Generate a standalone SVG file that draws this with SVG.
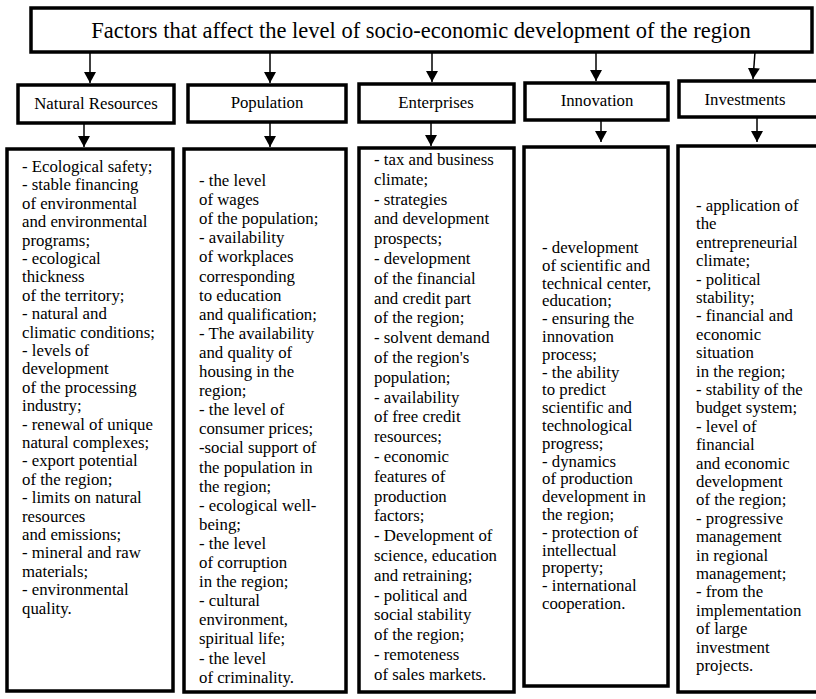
<svg xmlns="http://www.w3.org/2000/svg" width="816" height="699" viewBox="0 0 816 699" font-family="'Liberation Serif', 'Times New Roman', serif">
<style>
.box{fill:#fff;stroke:#000;stroke-width:3.5}
.t{font-family:'Liberation Serif','Times New Roman',serif;font-size:16.8px;fill:#000}
.title{font-family:'Liberation Serif','Times New Roman',serif;font-size:22.5px;fill:#000}
.hd{text-anchor:middle}
.arr{stroke:#000;stroke-width:1.5;fill:none;marker-end:url(#ah)}
</style>
<defs>
<marker id="ah" markerUnits="userSpaceOnUse" markerWidth="12" markerHeight="13" refX="11" refY="6" orient="auto">
<path d="M0,0 L11,6 L0,12 Z" fill="#000"/>
</marker>
</defs>
<rect width="816" height="699" fill="#fff"/>
<g id="title">
<rect class="box" x="31" y="8" width="781" height="44"/>
<text class="title" x="421" y="38" text-anchor="middle">Factors that affect the level of socio-economic development of the region</text>
</g>
<g id="connectors">
<line class="arr" x1="90" y1="52" x2="90" y2="83"/>
<line class="arr" x1="270" y1="52" x2="270" y2="83"/>
<line class="arr" x1="432" y1="52" x2="432" y2="82"/>
<line class="arr" x1="596" y1="52" x2="596" y2="81"/>
<line class="arr" x1="755" y1="52" x2="753" y2="79"/>
<line class="arr" x1="84" y1="123" x2="84" y2="147"/>
<line class="arr" x1="270" y1="122" x2="270" y2="147"/>
<line class="arr" x1="431" y1="122" x2="431" y2="146"/>
<line class="arr" x1="601" y1="120" x2="601" y2="142"/>
<line class="arr" x1="757" y1="117" x2="757" y2="142"/>
</g>
<g id="h-natural">
<rect class="box" x="18" y="85" width="156" height="38"/>
<text class="t hd" x="96" y="109">Natural Resources</text>
</g>
<g id="h-population">
<rect class="box" x="188" y="85" width="158" height="37"/>
<text class="t hd" x="267" y="108">Population</text>
</g>
<g id="h-enterprises">
<rect class="box" x="359" y="84" width="155" height="38"/>
<text class="t hd" x="436" y="108">Enterprises</text>
</g>
<g id="h-innovation">
<rect class="box" x="525" y="83" width="143" height="37"/>
<text class="t hd" x="597" y="106">Innovation</text>
</g>
<g id="h-investments">
<rect class="box" x="679" y="81" width="145" height="36"/>
<text class="t hd" x="745" y="105">Investments</text>
</g>
<g id="c-natural">
<rect class="box" x="7" y="149" width="166" height="542"/>
<text class="t" x="22" y="172">
<tspan x="22">- Ecological safety;</tspan>
<tspan x="22" dy="18.4">- stable financing</tspan>
<tspan x="22" dy="18.4">of environmental</tspan>
<tspan x="22" dy="18.4">and environmental</tspan>
<tspan x="22" dy="18.4">programs;</tspan>
<tspan x="22" dy="18.4">- ecological</tspan>
<tspan x="22" dy="18.4">thickness</tspan>
<tspan x="22" dy="18.4">of the territory;</tspan>
<tspan x="22" dy="18.4">- natural and</tspan>
<tspan x="22" dy="18.4">climatic conditions;</tspan>
<tspan x="22" dy="18.4">- levels of</tspan>
<tspan x="22" dy="18.4">development</tspan>
<tspan x="22" dy="18.4">of the processing</tspan>
<tspan x="22" dy="18.4">industry;</tspan>
<tspan x="22" dy="18.4">- renewal of unique</tspan>
<tspan x="22" dy="18.4">natural complexes;</tspan>
<tspan x="22" dy="18.4">- export potential</tspan>
<tspan x="22" dy="18.4">of the region;</tspan>
<tspan x="22" dy="18.4">- limits on natural</tspan>
<tspan x="22" dy="18.4">resources</tspan>
<tspan x="22" dy="18.4"> and emissions;</tspan>
<tspan x="22" dy="18.4">- mineral and raw</tspan>
<tspan x="22" dy="18.4">materials;</tspan>
<tspan x="22" dy="18.4">- environmental</tspan>
<tspan x="22" dy="18.4">quality.</tspan>
</text>
</g>
<g id="c-population">
<rect class="box" x="184" y="149" width="162" height="543"/>
<text class="t" x="199" y="186">
<tspan x="199">- the level</tspan>
<tspan x="199" dy="19.1">of wages</tspan>
<tspan x="199" dy="19.1">of the population;</tspan>
<tspan x="199" dy="19.1">- availability</tspan>
<tspan x="199" dy="19.1">of workplaces</tspan>
<tspan x="199" dy="19.1">corresponding</tspan>
<tspan x="199" dy="19.1">to education</tspan>
<tspan x="199" dy="19.1"> and qualification;</tspan>
<tspan x="199" dy="19.1">- The availability</tspan>
<tspan x="199" dy="19.1">and quality of</tspan>
<tspan x="199" dy="19.1">housing in the</tspan>
<tspan x="199" dy="19.1">region;</tspan>
<tspan x="199" dy="19.1">- the level of</tspan>
<tspan x="199" dy="19.1">consumer prices;</tspan>
<tspan x="199" dy="19.1">-social support of</tspan>
<tspan x="199" dy="19.1">the population in</tspan>
<tspan x="199" dy="19.1">the region;</tspan>
<tspan x="199" dy="19.1">- ecological well-</tspan>
<tspan x="199" dy="19.1">being;</tspan>
<tspan x="199" dy="19.1">- the level</tspan>
<tspan x="199" dy="19.1">of corruption</tspan>
<tspan x="199" dy="19.1">in the region;</tspan>
<tspan x="199" dy="19.1">- cultural</tspan>
<tspan x="199" dy="19.1">environment,</tspan>
<tspan x="199" dy="19.1">spiritual life;</tspan>
<tspan x="199" dy="19.1">- the level</tspan>
<tspan x="199" dy="19.1">of criminality.</tspan>
</text>
</g>
<g id="c-enterprises">
<rect class="box" x="359" y="148" width="155" height="544"/>
<text class="t" x="374" y="165">
<tspan x="374">- tax and business</tspan>
<tspan x="374" dy="19.8">climate;</tspan>
<tspan x="374" dy="19.8">- strategies</tspan>
<tspan x="374" dy="19.8">and development</tspan>
<tspan x="374" dy="19.8">prospects;</tspan>
<tspan x="374" dy="19.8">- development</tspan>
<tspan x="374" dy="19.8">of the financial</tspan>
<tspan x="374" dy="19.8">and credit part</tspan>
<tspan x="374" dy="19.8">of the region;</tspan>
<tspan x="374" dy="19.8">- solvent demand</tspan>
<tspan x="374" dy="19.8">of the region's</tspan>
<tspan x="374" dy="19.8">population;</tspan>
<tspan x="374" dy="19.8">- availability</tspan>
<tspan x="374" dy="19.8">of free credit</tspan>
<tspan x="374" dy="19.8">resources;</tspan>
<tspan x="374" dy="19.8">- economic</tspan>
<tspan x="374" dy="19.8">features of</tspan>
<tspan x="374" dy="19.8">production</tspan>
<tspan x="374" dy="19.8">factors;</tspan>
<tspan x="374" dy="19.8">- Development of</tspan>
<tspan x="374" dy="19.8">science, education</tspan>
<tspan x="374" dy="19.8">and retraining;</tspan>
<tspan x="374" dy="19.8">- political and</tspan>
<tspan x="374" dy="19.8">social stability</tspan>
<tspan x="374" dy="19.8">of the region;</tspan>
<tspan x="374" dy="19.8">- remoteness</tspan>
<tspan x="374" dy="19.8">of sales markets.</tspan>
</text>
</g>
<g id="c-innovation">
<rect class="box" x="524" y="147" width="144" height="539"/>
<text class="t" x="542" y="253">
<tspan x="542">- development</tspan>
<tspan x="542" dy="17.8">of scientific and</tspan>
<tspan x="542" dy="17.8">technical center,</tspan>
<tspan x="542" dy="17.8">education;</tspan>
<tspan x="542" dy="17.8">- ensuring the</tspan>
<tspan x="542" dy="17.8">innovation</tspan>
<tspan x="542" dy="17.8">process;</tspan>
<tspan x="542" dy="17.8">- the ability</tspan>
<tspan x="542" dy="17.8">to predict</tspan>
<tspan x="542" dy="17.8">scientific and</tspan>
<tspan x="542" dy="17.8">technological</tspan>
<tspan x="542" dy="17.8">progress;</tspan>
<tspan x="542" dy="17.8">- dynamics</tspan>
<tspan x="542" dy="17.8">of production</tspan>
<tspan x="542" dy="17.8">development in</tspan>
<tspan x="542" dy="17.8">the region;</tspan>
<tspan x="542" dy="17.8">- protection of</tspan>
<tspan x="542" dy="17.8">intellectual</tspan>
<tspan x="542" dy="17.8">property;</tspan>
<tspan x="542" dy="17.8">- international</tspan>
<tspan x="542" dy="17.8">cooperation.</tspan>
</text>
</g>
<g id="c-investments">
<rect class="box" x="678" y="146" width="146" height="546"/>
<text class="t" x="696" y="211">
<tspan x="696">- application of</tspan>
<tspan x="696" dy="18.4">the</tspan>
<tspan x="696" dy="18.4">entrepreneurial</tspan>
<tspan x="696" dy="18.4">climate;</tspan>
<tspan x="696" dy="18.4">- political</tspan>
<tspan x="696" dy="18.4">stability;</tspan>
<tspan x="696" dy="18.4">- financial and</tspan>
<tspan x="696" dy="18.4">economic</tspan>
<tspan x="696" dy="18.4">situation</tspan>
<tspan x="696" dy="18.4">in the region;</tspan>
<tspan x="696" dy="18.4">- stability of the</tspan>
<tspan x="696" dy="18.4">budget system;</tspan>
<tspan x="696" dy="18.4">- level of</tspan>
<tspan x="696" dy="18.4">financial</tspan>
<tspan x="696" dy="18.4">and economic</tspan>
<tspan x="696" dy="18.4">development</tspan>
<tspan x="696" dy="18.4">of the region;</tspan>
<tspan x="696" dy="18.4">- progressive</tspan>
<tspan x="696" dy="18.4">management</tspan>
<tspan x="696" dy="18.4">in regional</tspan>
<tspan x="696" dy="18.4">management;</tspan>
<tspan x="696" dy="18.4">- from the</tspan>
<tspan x="696" dy="18.4">implementation</tspan>
<tspan x="696" dy="18.4">of large</tspan>
<tspan x="696" dy="18.4">investment</tspan>
<tspan x="696" dy="18.4">projects.</tspan>
</text>
</g>
</svg>
